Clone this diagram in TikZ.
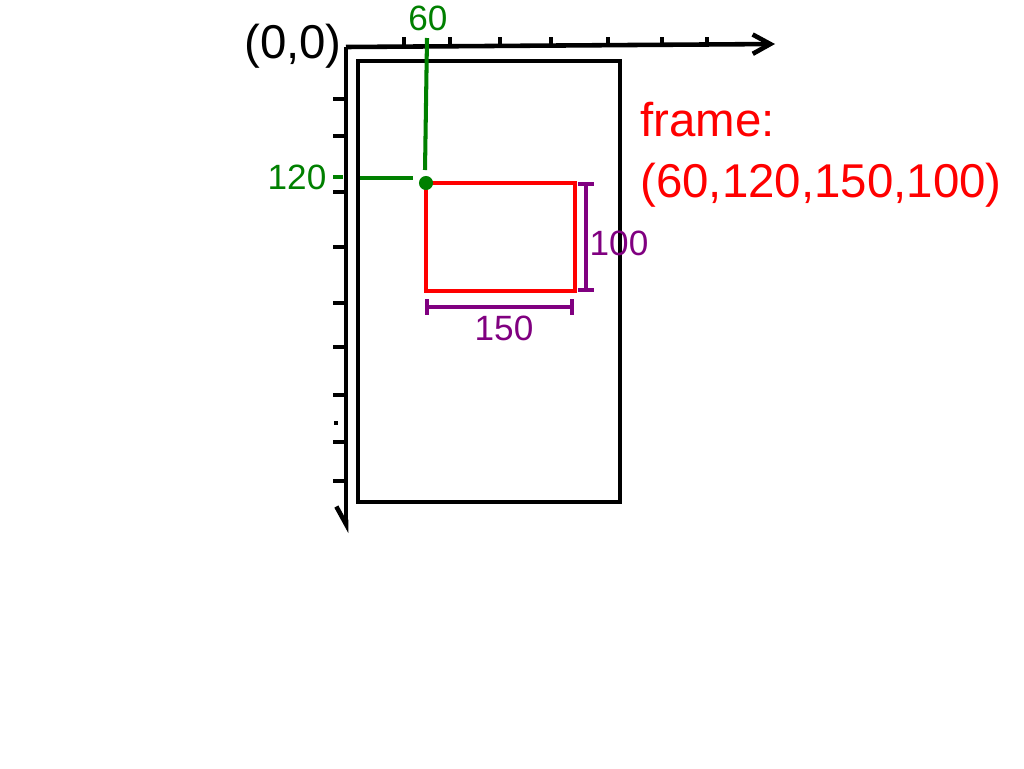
\documentclass[tikz,border=0pt]{standalone}
\usepackage{fontspec}
\setmainfont{Liberation Sans}
\usetikzlibrary{arrows.meta,positioning}
\definecolor{darkgreen}{RGB}{0,128,0}
\definecolor{dimpurple}{RGB}{128,0,128}
\tikzset{
    %Define standard arrow tip
    >={Straight Barb[length=10pt,width=11pt]},
    %Define style for axes
    axis/.style={
           draw=black,
           line width=2.6pt},
    axtick/.style={
           draw=black,
           line width=2.3pt},
    %Define style for boxes
    framebox/.style={
           draw=black,
           line width=2.6pt},
    subbox/.style={
           draw=red,
           line width=2.3pt},
    % Define guide and measure style
    guide/.style={
           draw=darkgreen,
           line width=2.3pt},
    measure/.style={
           draw=dimpurple,
           line width=2.3pt,
           {Bar[width=9pt]}-{Bar[width=9pt]}},
    biglabel/.style={
           font=\fontsize{27}{31}\selectfont,
           inner sep=0pt},
    smalllabel/.style={
           font=\fontsize{20}{24}\selectfont,
           inner sep=0pt}
}
\begin{document}
\begin{tikzpicture}[x=0.02cm,y=-0.02cm]
\useasboundingbox (0,0) rectangle (1024,768);

 %axes
\coordinate (o) at (346,47);
\coordinate (xend) at (775,44);
\coordinate (yend) at (346,533);
\draw[axis,->] (o) -- (xend);
\draw[axis,-{Straight Barb[harpoon,swap,length=10pt,width=11pt]}] (o) -- (yend);
\foreach \x in {404,450,500,551,608,662,707}
    \draw[axtick] (\x,37) -- (\x,46);
\foreach \y in {99,136,192,247,303,347,395,442,481}
    \draw[axtick] (333,\y) -- (346,\y);
\fill (334,421) rectangle (338,425);

 %boxes
\draw[framebox] (358,61) rectangle (620,502);
\coordinate (corner) at (426,183);
\coordinate (far) at (575,291);
\draw[subbox] (corner) rectangle (far);

 %guides
\draw[guide] (427,38) -- (425,170);
\draw[guide] (333,177) -- (343,177);
\draw[guide] (360,178) -- (413,178);
\fill[darkgreen] (corner) circle (4pt);

 %measures
\draw[measure] (586,182) -- (586,292);
\draw[measure] (425,307) -- (574,307);

 %labels
\node[biglabel] (origin) at (293,46) {(0,0)};
\node[smalllabel, text=darkgreen] (xval) at (428,18) {60};
\node[smalllabel, text=darkgreen] (yval) at (297,177) {120};
\node[smalllabel, text=dimpurple] (hval) at (619,243) {100};
\node[smalllabel, text=dimpurple] (wval) at (504,328) {150};
\node[biglabel, text=red, anchor=west] (name) at (640,120) {frame:};
\node[biglabel, text=red, below=0.5cm of name.south west, anchor=north west] (args) {(60,120,150,100)};

\end{tikzpicture}
\end{document}
